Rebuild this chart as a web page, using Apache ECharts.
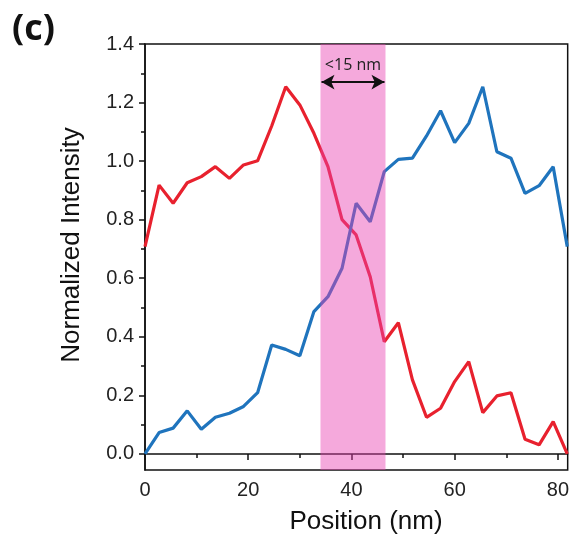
<!DOCTYPE html>
<html>
<head>
<meta charset="utf-8">
<script src="https://cdn.jsdelivr.net/npm/echarts@6/dist/echarts.min.js"></script>
<style>
  html, body { margin: 0; padding: 0; background: #fff; }
  #chart { width: 572px; height: 544px; }
</style>
</head>
<body>
<div id="chart"></div>
<script>
// positions along the line scan (nm)
const position = [0, 2.73, 5.45, 8.18, 10.91, 13.64, 16.36, 19.09, 21.82, 24.55,
  27.27, 30.0, 32.73, 35.45, 38.18, 40.91, 43.64, 46.36, 49.09, 51.82,
  54.55, 57.27, 60.0, 62.73, 65.45, 68.18, 70.91, 73.64, 76.36, 79.09, 81.82]

const redIntensity = [0.708, 0.918, 0.856, 0.926, 0.947, 0.981, 0.941, 0.987, 1.001, 1.12,
  1.254, 1.192, 1.095, 0.981, 0.80, 0.748, 0.605, 0.383, 0.448, 0.253,
  0.125, 0.156, 0.247, 0.315, 0.141, 0.198, 0.209, 0.05, 0.031, 0.11, 0.0]

const blueIntensity = [0.0, 0.073, 0.088, 0.147, 0.084, 0.125, 0.139, 0.162, 0.209, 0.372,
  0.357, 0.335, 0.486, 0.537, 0.634, 0.856, 0.793, 0.964, 1.006, 1.01,
  1.086, 1.172, 1.063, 1.129, 1.254, 1.032, 1.01, 0.89, 0.916, 0.981, 0.708]

const xMajorTicks = [0, 20, 40, 60, 80]
const xMinorTicks = [10, 30, 50, 70]
const yMajorTicks = [0, 0.2, 0.4, 0.6, 0.8, 1.0, 1.2, 1.4]
const yMinorTicks = [0.1, 0.3, 0.5, 0.7, 0.9, 1.1, 1.3]

// highlighted interface band and its width marker
const bandRange = [34.0, 46.6]
const arrowRange = [34.2, 46.4]
const arrowLevel = 1.27

const pairs = (xs, ys) => xs.map((x, i) => [x, ys[i]])

const font = 'Liberation Sans, Arial, sans-serif'
const xMin = 0, xMax = 81.9, yMin = -0.055, yMax = 1.4

const option = {
  animation: false,
  grid: {
    left: 145, right: 4, top: 44, bottom: 74,
    show: true, borderColor: '#111', borderWidth: 1.5, backgroundColor: 'transparent'
  },
  xAxis: [{
    type: 'value', min: xMin, max: xMax,
    axisLine: { lineStyle: { color: '#111', width: 1.5 } },
    axisTick: { customValues: xMajorTicks, length: 6, lineStyle: { color: '#111', width: 1.5 } },
    axisLabel: { customValues: xMajorTicks, fontSize: 20, color: '#222', fontFamily: font, margin: 10 },
    splitLine: { show: false }
  }, {
    type: 'value', min: xMin, max: xMax, position: 'bottom',
    axisLine: { show: false },
    axisTick: { customValues: xMinorTicks, length: 4, lineStyle: { color: '#111', width: 1.5 } },
    axisLabel: { show: false },
    splitLine: { show: false }
  }],
  yAxis: [{
    type: 'value', min: yMin, max: yMax,
    axisLine: { show: true, lineStyle: { color: '#111', width: 1.5 } },
    axisTick: { show: true, customValues: yMajorTicks, length: 6, lineStyle: { color: '#111', width: 1.5 } },
    axisLabel: {
      customValues: yMajorTicks, fontSize: 20, color: '#222', fontFamily: font, margin: 11,
      formatter: v => v.toFixed(1)
    },
    splitLine: { show: false }
  }, {
    type: 'value', min: yMin, max: yMax, position: 'left',
    axisLine: { show: false },
    axisTick: { show: true, customValues: yMinorTicks, length: 4, lineStyle: { color: '#111', width: 1.5 } },
    axisLabel: { show: false },
    splitLine: { show: false }
  }],
  series: [{
    name: 'red',
    type: 'line',
    data: pairs(position, redIntensity),
    symbol: 'none',
    lineStyle: { color: '#e8212e', width: 3.2 },
    z: 2
  }, {
    name: 'blue',
    type: 'line',
    data: pairs(position, blueIntensity),
    symbol: 'none',
    lineStyle: { color: '#1f74bd', width: 3.2 },
    z: 2
  }, {
    name: 'band',
    type: 'line',
    data: [],
    z: 5,
    markArea: {
      silent: true,
      z: 10,
      itemStyle: { color: 'rgba(233, 64, 177, 0.45)' },
      data: [[{ xAxis: bandRange[0] }, { xAxis: bandRange[1] }]]
    },
    markLine: {
      silent: true,
      z: 11,
      symbol: ['arrow', 'arrow'],
      symbolSize: [11, 13],
      lineStyle: { color: '#111', width: 2, type: 'solid' },
      label: {
        show: true, position: 'middle', formatter: '<15 nm', distance: 9,
        fontSize: 16, color: '#222', fontFamily: 'Open Sans, sans-serif'
      },
      data: [[{ coord: [arrowRange[0], arrowLevel] }, { coord: [arrowRange[1], arrowLevel] }]]
    }
  }],
  graphic: [{
    type: 'text', left: 12, top: 12,
    style: { text: '(c)', fontSize: 36, fontWeight: 'bold', fontFamily: 'Open Sans, sans-serif', fill: '#111' }
  }, {
    type: 'text', x: 72, y: 245, rotation: Math.PI / 2,
    style: { text: 'Normalized Intensity', fontSize: 26, fontFamily: font, fill: '#111', align: 'center', verticalAlign: 'middle' }
  }, {
    type: 'text', x: 366, y: 522,
    style: { text: 'Position (nm)', fontSize: 26, fontFamily: font, fill: '#111', align: 'center', verticalAlign: 'middle' }
  }]
}

const chart = echarts.init(document.getElementById('chart'))
chart.setOption(option)
</script>
</body>
</html>
